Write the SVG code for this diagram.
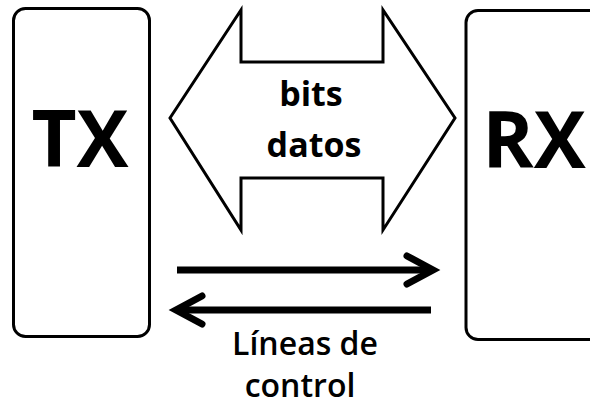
<svg xmlns="http://www.w3.org/2000/svg" width="590" height="415" viewBox="0 0 590 415">
<style>
.box{fill:#fff;stroke:#000;stroke-width:3}
.big{font-family:"Open Sans","Liberation Sans",sans-serif;font-weight:bold;font-size:78px;fill:#000;text-anchor:middle}
.lbl{font-family:"Open Sans","Liberation Sans",sans-serif;font-weight:bold;font-size:34px;fill:#000;text-anchor:middle}
.ctl{font-family:"Open Sans","Liberation Sans",sans-serif;font-weight:600;font-size:32px;fill:#000;text-anchor:middle}
.ln{fill:none;stroke:#000;stroke-width:7}
</style>
<rect width="590" height="415" fill="#fff"/>
<g id="tx">
<rect class="box" x="13.5" y="8.5" width="136" height="328" rx="12"/>
<text class="big" x="80" y="167">TX</text>
</g>
<g id="rx">
<rect class="box" x="466" y="10.5" width="140" height="329" rx="12"/>
<text class="big" x="534" y="168">RX</text>
</g>
<g id="bus">
<polygon class="box" points="170,118 241,10 241,62 383,62 383,10 455,118 383,230 383,178 241,178 241,230"/>
<text class="lbl" x="311" y="106">bits</text>
<text class="lbl" x="314" y="157">datos</text>
</g>
<g id="connectors">
<path class="ln" d="M177,270 H432"/>
<path class="ln" d="M407,256 L433,270 L407,284" stroke-linejoin="miter" stroke-linecap="round"/>
<path class="ln" d="M431,310 H176"/>
<path class="ln" d="M202,296 L176,310 L202,324" stroke-linejoin="miter" stroke-linecap="round"/>
</g>
<g id="ctrl-label">
<text class="ctl" x="305" y="355">Líneas de</text>
<text class="ctl" x="300" y="397">control</text>
</g>
</svg>
